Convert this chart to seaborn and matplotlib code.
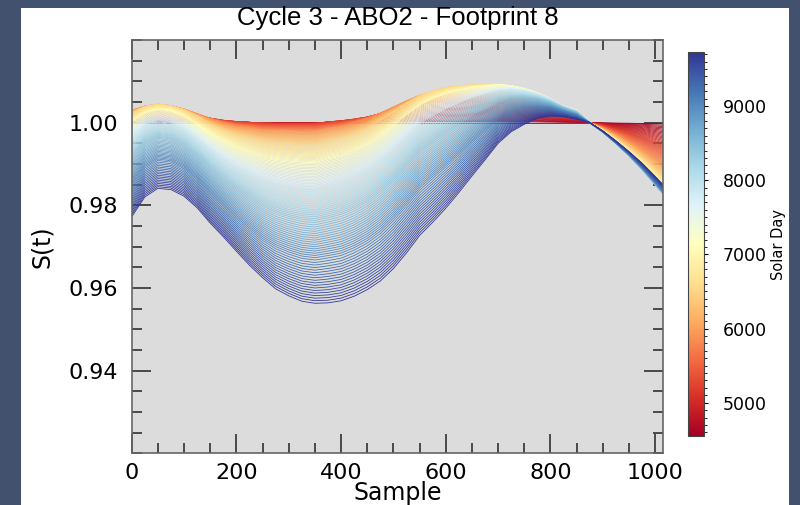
import numpy as np
import pandas as pd
import matplotlib
matplotlib.use("Agg")
import matplotlib.pyplot as plt
import seaborn as sns
from matplotlib.colors import Normalize
from matplotlib.patches import Rectangle
from matplotlib.ticker import MultipleLocator

sample_knots = [0, 25, 50, 75, 100, 125, 150, 175, 200, 225, 250, 275, 300, 325,
                350, 375, 400, 425, 450, 475, 500, 525, 550, 575, 600, 625, 650, 675,
                700, 725, 750, 775, 800, 825, 850, 875, 900, 925, 950, 975, 1000, 1015]

# reference curves S(t), one per solar day
ref_days = [4555, 5201, 5847, 6493, 7140, 7786, 8432, 9078, 9724]
s_4555 = [1.0000, 1.0000, 1.0000, 1.0000, 1.0000, 1.0000, 1.0000, 1.0000, 1.0000, 1.0000, 1.0000,
          1.0000, 1.0000, 1.0000, 1.0000, 1.0000, 1.0000, 1.0000, 1.0000, 1.0000, 1.0000, 1.0000,
          1.0000, 1.0000, 1.0000, 1.0000, 1.0000, 1.0000, 1.0000, 1.0000, 1.0000, 1.0000,
          1.0000, 1.0000, 1.0000, 1.0000, 1.0000, 1.0000, 1.0000, 1.0000, 1.0000, 1.0000]
s_5201 = [1.0022, 1.0027, 1.0029, 1.0027, 1.0023, 1.0017, 1.0011, 1.0006, 1.0003, 1.0001, 0.9999,
          0.9998, 0.9998, 0.9998, 0.9998, 1.0002, 1.0005, 1.0009, 1.0014, 1.0022, 1.0029, 1.0037,
          1.0044, 1.0048, 1.0050, 1.0050, 1.0049, 1.0047, 1.0045, 1.0041, 1.0037, 1.0031,
          1.0024, 1.0016, 1.0012, 1.0000, 0.9993, 0.9984, 0.9975, 0.9965, 0.9953, 0.9946]
s_5847 = [1.0030, 1.0040, 1.0044, 1.0041, 1.0033, 1.0022, 1.0010, 1.0000, 0.9993, 0.9989, 0.9984,
          0.9983, 0.9982, 0.9981, 0.9981, 0.9987, 0.9992, 1.0000, 1.0010, 1.0023, 1.0038, 1.0053,
          1.0066, 1.0073, 1.0078, 1.0080, 1.0080, 1.0078, 1.0075, 1.0070, 1.0063, 1.0053,
          1.0041, 1.0029, 1.0021, 1.0000, 0.9987, 0.9972, 0.9955, 0.9936, 0.9915, 0.9903]
s_6493 = [1.0023, 1.0039, 1.0045, 1.0041, 1.0031, 1.0015, 0.9997, 0.9983, 0.9972, 0.9965, 0.9957,
          0.9953, 0.9951, 0.9949, 0.9949, 0.9957, 0.9964, 0.9974, 0.9987, 1.0005, 1.0025, 1.0046,
          1.0065, 1.0077, 1.0085, 1.0089, 1.0092, 1.0092, 1.0091, 1.0086, 1.0078, 1.0067,
          1.0053, 1.0037, 1.0027, 1.0000, 0.9983, 0.9962, 0.9939, 0.9914, 0.9886, 0.9869]
s_7140 = [1.0002, 1.0023, 1.0032, 1.0028, 1.0015, 0.9995, 0.9973, 0.9955, 0.9939, 0.9928, 0.9916,
          0.9910, 0.9906, 0.9903, 0.9902, 0.9911, 0.9918, 0.9931, 0.9946, 0.9967, 0.9992, 1.0018,
          1.0042, 1.0058, 1.0070, 1.0078, 1.0085, 1.0089, 1.0092, 1.0090, 1.0083, 1.0073,
          1.0058, 1.0041, 1.0030, 1.0000, 0.9980, 0.9955, 0.9928, 0.9899, 0.9866, 0.9845]
s_7786 = [0.9966, 0.9994, 1.0005, 1.0001, 0.9986, 0.9963, 0.9937, 0.9914, 0.9894, 0.9879, 0.9863,
          0.9853, 0.9846, 0.9841, 0.9840, 0.9848, 0.9856, 0.9869, 0.9886, 0.9909, 0.9937, 0.9967,
          0.9997, 1.0016, 1.0033, 1.0047, 1.0060, 1.0070, 1.0078, 1.0081, 1.0077, 1.0070,
          1.0057, 1.0040, 1.0029, 1.0000, 0.9978, 0.9951, 0.9922, 0.9890, 0.9854, 0.9831]
s_8432 = [0.9916, 0.9950, 0.9964, 0.9960, 0.9944, 0.9919, 0.9889, 0.9862, 0.9838, 0.9817, 0.9797,
          0.9782, 0.9772, 0.9765, 0.9762, 0.9769, 0.9777, 0.9790, 0.9808, 0.9832, 0.9861, 0.9895,
          0.9929, 0.9953, 0.9975, 0.9995, 1.0015, 1.0033, 1.0050, 1.0059, 1.0061, 1.0058,
          1.0049, 1.0036, 1.0025, 1.0000, 0.9977, 0.9950, 0.9920, 0.9887, 0.9850, 0.9828]
s_9078 = [0.9851, 0.9892, 0.9910, 0.9906, 0.9890, 0.9863, 0.9829, 0.9799, 0.9769, 0.9742, 0.9717,
          0.9697, 0.9684, 0.9674, 0.9670, 0.9675, 0.9681, 0.9694, 0.9711, 0.9734, 0.9765, 0.9801,
          0.9839, 0.9867, 0.9895, 0.9923, 0.9953, 0.9980, 1.0007, 1.0025, 1.0034, 1.0038,
          1.0036, 1.0027, 1.0018, 1.0000, 0.9978, 0.9951, 0.9923, 0.9891, 0.9856, 0.9834]
s_9724 = [0.9772, 0.9820, 0.9841, 0.9838, 0.9822, 0.9794, 0.9757, 0.9724, 0.9689, 0.9655, 0.9625,
          0.9598, 0.9581, 0.9568, 0.9563, 0.9564, 0.9569, 0.9580, 0.9596, 0.9617, 0.9647, 0.9685,
          0.9727, 0.9759, 0.9793, 0.9831, 0.9871, 0.9910, 0.9950, 0.9978, 0.9996, 1.0010,
          1.0016, 1.0014, 1.0008, 1.0000, 0.9980, 0.9956, 0.9930, 0.9902, 0.9870, 0.9850]

n_lines = 140
day_min, day_max = 4555, 9724

ref_curves = np.array([s_4555, s_5201, s_5847, s_6493, s_7140, s_7786, s_8432, s_9078, s_9724])
line_days = np.linspace(day_min, day_max, n_lines)

rows = []
for d in line_days:
    for k, s in enumerate(sample_knots):
        rows.append((s, np.interp(d, ref_days, ref_curves[:, k]), d))
df = pd.DataFrame(rows, columns=["Sample", "S", "Solar Day"])

norm = Normalize(vmin=day_min, vmax=day_max)

fig = plt.figure(figsize=(8, 5.05), dpi=100, facecolor="#42526e")
fig.patches.append(Rectangle((21 / 800, 0), 768 / 800, 497 / 505, transform=fig.transFigure,
                             facecolor="white", edgecolor="none", zorder=-1))
ax = fig.add_axes([0.1646, 0.1024, 0.6642, 0.8184])
ax.set_facecolor("#dcdcdc")

sns.lineplot(data=df, x="Sample", y="S", hue="Solar Day", palette="RdYlBu", hue_norm=norm,
             estimator=None, sort=False, legend=False, linewidth=0.6, ax=ax)

ax.set_xlim(0, 1015)
ax.set_ylim(0.92, 1.02)
ax.set_xticks([0, 200, 400, 600, 800, 1000])
ax.set_yticks([0.94, 0.96, 0.98, 1.00])
ax.xaxis.set_minor_locator(MultipleLocator(50))
ax.yaxis.set_minor_locator(MultipleLocator(0.005))
ax.tick_params(which="both", direction="in", top=True, right=True, color="#222222")
ax.tick_params(which="major", length=14, width=1.1, labelsize=16)
ax.tick_params(axis="y", which="major", pad=10)
ax.tick_params(axis="x", which="major", pad=7)
ax.tick_params(which="minor", length=7, width=1.1)
for sp in ax.spines.values():
    sp.set_color("#666666")
    sp.set_linewidth(1.2)

ax.set_xlabel("Sample", fontsize=17)
ax.xaxis.set_label_coords(0.5, -0.066)
ax.set_ylabel("S(t)", fontsize=17, labelpad=10)
ax.set_title("Cycle 3 - ABO2 - Footprint 8", fontsize=18.5, family="Liberation Sans", pad=11)

cax = fig.add_axes([0.8604, 0.1372, 0.02, 0.7592])
sm = plt.cm.ScalarMappable(cmap="RdYlBu", norm=norm)
cbar = fig.colorbar(sm, cax=cax)
cbar.set_ticks([5000, 6000, 7000, 8000, 9000])
cbar.ax.yaxis.set_minor_locator(MultipleLocator(100))
cbar.ax.tick_params(which="major", length=3, width=0.8, labelsize=12.5, pad=10)
cbar.ax.tick_params(which="minor", length=2, width=0.6)
cbar.outline.set_edgecolor("#444444")
cbar.set_label("Solar Day", fontsize=10.5, labelpad=3)

fig.savefig("out.png", dpi=100, facecolor=fig.get_facecolor())
